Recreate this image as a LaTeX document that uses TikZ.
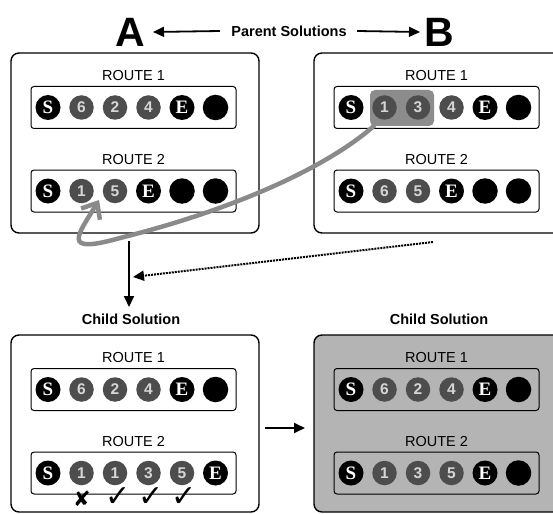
\documentclass[tikz,border=0pt]{standalone}
\usepackage{fontspec}
\setmainfont{Liberation Sans}
\newfontfamily\serifface{Liberation Serif}
\newfontfamily\symface{DejaVu Sans}
\usetikzlibrary{arrows.meta}
\definecolor{numgray}{HTML}{4D4D4D}
\definecolor{numtext}{HTML}{D6D6D6}
\definecolor{curvegray}{HTML}{8A8A8A}
\definecolor{hlgray}{HTML}{8C8C8C}
\definecolor{boxgray}{HTML}{B4B4B4}
\newcommand\crow[4]{\foreach \k/\lab [count=\i] in {#4}{\node[kind=\k] (#1\i) at ({#2+33.5*(\i-1)},#3) {\lab};}}
\begin{document}
\begin{tikzpicture}[x=1pt,y=-1pt,
  kind/.is choice,
  kind/t/.style={circle, fill=black, minimum size=25pt, inner sep=0pt, text=white, font=\serifface\bfseries\fontsize{19}{19}\selectfont},
  kind/n/.style={circle, fill=numgray, minimum size=24.5pt, inner sep=0pt, text=numtext, font=\bfseries\fontsize{15.5}{15.5}\selectfont},
  kind/b/.style={circle, fill=black, minimum size=25.5pt, inner sep=0pt},
  panel/.style={draw, line width=1.4pt, rounded corners=8pt, inner sep=0pt},
  bar/.style={draw, line width=1pt, rounded corners=3pt, fill=white, inner sep=0pt, minimum width=205pt, minimum height=42pt},
  rlab/.style={font=\fontsize{14.5}{14.5}\selectfont},
  head/.style={font=\bfseries\fontsize{14.5}{14.5}\selectfont},
  big/.style={font=\bfseries\fontsize{41}{41}\selectfont, inner sep=0pt},
  arr/.style={-{Triangle[length=11pt,width=10pt]}, line width=1.8pt},
  tickmark/.style={font=\symface\fontsize{30}{30}\selectfont, inner sep=0pt}
]
\fill[white] (0,0) rectangle (553,513);
\useasboundingbox (0,0) rectangle (553,513);

% header
\node[big] (A) at (130,32) {A};
\node[big] (B) at (439,32) {B};
\node[head] (ps) at (289,31) {Parent Solutions};
\draw[arr] ([xshift=-8pt]ps.west) -- ([xshift=8pt]A.east);
\draw[arr] ([xshift=7pt]ps.east) -- ([xshift=-4pt]B.west);

% panels
\node[panel, minimum width=248pt, minimum height=180pt] (pa) at (135,143) {};
\node[panel, minimum width=252pt, minimum height=180pt] (pb) at (440,143) {};
\node[panel, minimum width=248pt, minimum height=177pt] (pc) at (135,423.5) {};
\node[panel, fill=boxgray, minimum width=252pt, minimum height=177pt] (pd) at (440,423.5) {};

% panel A
\node[rlab] (la1) at (133.5,76) {ROUTE 1};
\node[bar] (ba1) at (133.5,107.5) {};
\crow{a1c}{48}{107.5}{t/S,n/6,n/2,n/4,t/E,b/{}}
\node[rlab] (la2) at (133.5,160) {ROUTE 2};
\node[bar] (ba2) at (133.5,191) {};
\crow{a2c}{48}{191}{t/S,n/1,n/5,t/E,b/{},b/{}}

% panel B
\node[rlab] (lb1) at (436.5,76) {ROUTE 1};
\node[bar] (bb1) at (436.5,107.5) {};
\node[fill=hlgray, rounded corners=5pt, minimum width=64pt, minimum height=36pt, inner sep=0pt] (hl) at (402,108) {};
\crow{b1c}{351}{107.5}{t/S,n/1,n/3,n/4,t/E,b/{}}
\node[rlab] (lb2) at (436.5,160) {ROUTE 2};
\node[bar] (bb2) at (436.5,191) {};
\crow{b2c}{351}{191}{t/S,n/6,n/5,t/E,b/{},b/{}}

% child headings
\node[head] (chl) at (131,319) {Child Solution};
\node[head] (chr) at (439,319) {Child Solution};

% panel C
\node[rlab] (lc1) at (133.5,358) {ROUTE 1};
\node[bar] (bc1) at (133.5,389.5) {};
\crow{c1c}{48}{389.5}{t/S,n/6,n/2,n/4,t/E,b/{}}
\node[rlab] (lc2) at (133.5,442) {ROUTE 2};
\node[bar] (bc2) at (133.5,473) {};
\crow{c2c}{48}{473}{t/S,n/1,n/1,n/3,n/5,t/E}

% panel D
\node[rlab] (ld1) at (436.5,358) {ROUTE 1};
\node[bar, fill=boxgray] (bd1) at (436.5,389.5) {};
\crow{d1c}{351}{389.5}{t/S,n/6,n/2,n/4,t/E,b/{}}
\node[rlab] (ld2) at (436.5,442) {ROUTE 2};
\node[bar, fill=boxgray] (bd2) at (436.5,473) {};
\crow{d2c}{351}{473}{t/S,n/1,n/3,n/5,t/E,b/{}}

% marks
\node[tickmark, font=\symface\fontsize{21}{21}\selectfont] (x1) at (82,499) {✘};
\node[tickmark] (ck1) at (118,497) {✓};
\node[tickmark] (ck2) at (151,497) {✓};
\node[tickmark] (ck3) at (184,497) {✓};

% connectors
\coordinate (tip) at (99,200);
\draw[curvegray, line width=4.5pt, -{Straight Barb[length=13pt,width=22pt]}]
  ([xshift=5pt,yshift=1pt]hl.south west) .. controls (330,165) and (240,208) .. (120,238)
  .. controls (60,255) and (78,235) .. (tip);
\coordinate (dtop) at (129,241);
\coordinate (dbot) at (129,307);
\draw[arr] (dtop) -- (dbot);
\coordinate (dst) at (433,242);
\coordinate (dend) at (133,277);
\draw[line width=2pt, densely dotted, -{Triangle[length=11pt,width=10pt]}] (dst) -- (dend);
\coordinate (hst) at (265,428);
\coordinate (hend) at (305,428);
\draw[arr] (hst) -- (hend);
\end{tikzpicture}
\end{document}
